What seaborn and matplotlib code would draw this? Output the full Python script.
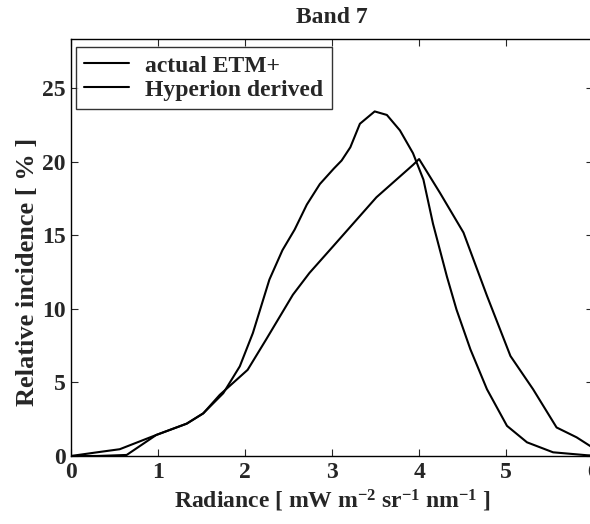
import numpy as np
import pandas as pd
import matplotlib
matplotlib.use("Agg")
import matplotlib.pyplot as plt
import seaborn as sns

# curves (radiance, relative incidence %)
etm_x = [0.0, 0.3, 0.56, 0.98, 1.33, 1.52, 1.71, 2.03, 2.24, 2.55, 2.74, 3.01,
         3.51, 3.93, 4.0, 4.24, 4.51, 4.78, 5.05, 5.31, 5.58, 5.81, 6.0]
etm_y = [0.0, 0.25, 0.46, 1.43, 2.2, 2.9, 4.16, 5.86, 7.9, 10.97, 12.45, 14.25,
         17.6, 19.8, 20.2, 17.9, 15.2, 10.9, 6.8, 4.54, 1.94, 1.27, 0.55]

hyp_x = [0.0, 0.3, 0.64, 0.98, 1.33, 1.52, 1.75, 1.94, 2.09, 2.28, 2.43, 2.57,
         2.71, 2.86, 3.02, 3.11, 3.21, 3.32, 3.49, 3.63, 3.78, 3.93, 4.05, 4.16,
         4.32, 4.43, 4.59, 4.78, 5.01, 5.24, 5.54, 5.93, 6.0]
hyp_y = [0.0, 0.0, 0.07, 1.43, 2.2, 2.9, 4.27, 6.1, 8.36, 12.0, 14.0, 15.4,
         17.1, 18.5, 19.55, 20.1, 21.0, 22.6, 23.44, 23.2, 22.15, 20.6, 18.8, 15.8,
         12.2, 9.96, 7.25, 4.54, 2.05, 0.93, 0.25, 0.05, 0.03]

labels = ["actual ETM+", "Hyperion derived"]

df = pd.concat([
    pd.DataFrame({"x": etm_x, "y": etm_y, "series": labels[0]}),
    pd.DataFrame({"x": hyp_x, "y": hyp_y, "series": labels[1]}),
])

sns.set_theme(style="ticks")
plt.rcParams["font.family"] = ["Liberation Serif", "DejaVu Serif"]
plt.rcParams["font.weight"] = "bold"
plt.rcParams["mathtext.fontset"] = "custom"
plt.rcParams["mathtext.bf"] = "Liberation Serif:bold"
plt.rcParams["mathtext.rm"] = "Liberation Serif:bold"
plt.rcParams["mathtext.default"] = "bf"

fig = plt.figure(figsize=(5.9, 5.24), dpi=100)
ax = fig.add_axes([0.1203, 0.1298, 0.885, 0.7967])

sns.lineplot(data=df, x="x", y="y", hue="series", palette=["black", "black"],
             linewidth=1.5, sort=False, ax=ax)

ax.set_xlim(0, 6)
ax.set_ylim(0, 28.4)
ax.set_xticks([0, 1, 2, 3, 4, 5, 6])
ax.set_yticks([0, 5, 10, 15, 20, 25])
ax.tick_params(direction="in", top=True, right=True, labelsize=17, length=5,
               width=0.8, pad=4)
for lab in ax.get_xticklabels() + ax.get_yticklabels():
    lab.set_fontweight("bold")
for sp in ax.spines.values():
    sp.set_color("black")
    sp.set_linewidth(1.0)

ax.set_title("Band 7", fontsize=17, fontweight="bold", pad=11)
ax.set_xlabel(r"Radiance [ mW m$^{-2}$ sr$^{-1}$ nm$^{-1}$ ]", fontsize=17,
              fontweight="bold", labelpad=4)
ax.set_ylabel("Relative incidence [ % ]", fontsize=19, fontweight="bold")
ax.yaxis.set_label_coords(-0.062, 0.44)

leg = ax.legend(loc="upper left", bbox_to_anchor=(0.009, 0.98), fontsize=17,
                frameon=True, fancybox=False, handlelength=1.9,
                borderpad=0.35, labelspacing=0.1, handletextpad=0.7,
                borderaxespad=0)
leg.get_frame().set_edgecolor("black")
leg.get_frame().set_linewidth(1.0)
for t in leg.get_texts():
    t.set_fontweight("bold")

fig.savefig("out.png", dpi=100)
